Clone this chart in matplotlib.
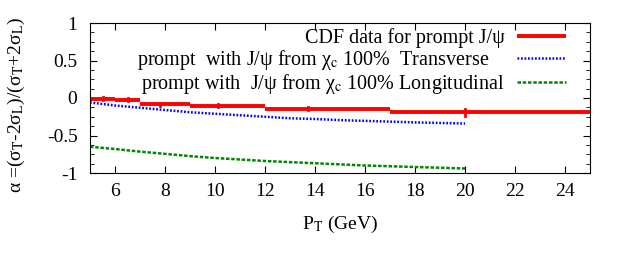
import matplotlib
matplotlib.use("Agg")
import matplotlib.pyplot as plt
import numpy as np
from matplotlib.ticker import MultipleLocator

plt.rcParams['font.family'] = ['Liberation Serif', 'DejaVu Serif']
plt.rcParams['mathtext.fontset'] = 'stix'

# CDF data: bin edges, centers (points), values, errors
cdf_lo = [5, 6, 7, 9, 12, 17]
cdf_hi = [6, 7, 9, 12, 17, 25]
cdf_x = [5.5, 6.5, 7.8, 10.1, 13.7, 20.0]
cdf_y = [-0.01, -0.02, -0.085, -0.10, -0.14, -0.19]
cdf_err = [0.02, 0.02, 0.015, 0.015, 0.025, 0.045]

# Theory curves
pt = [5, 6, 7, 8, 9, 10, 11, 12, 13, 14, 15, 16, 17, 18, 19, 20]
transverse = [-0.06, -0.10, -0.13, -0.16, -0.19, -0.21, -0.23, -0.25, -0.27, -0.28, -0.295, -0.305, -0.315, -0.325, -0.333, -0.34]
longitudinal = [-0.65, -0.68, -0.715, -0.745, -0.775, -0.80, -0.82, -0.84, -0.855, -0.87, -0.885, -0.90, -0.91, -0.92, -0.93, -0.94]

labels = ['CDF data for prompt J/\u03c8',
          'prompt  with J/\u03c8 from \u03c7$_{\\rm c}$ 100%  Transverse    ',
          'prompt with  J/\u03c8 from \u03c7$_{\\rm c}$ 100% Longitudinal']

fig = plt.figure(figsize=(6.23, 2.54), dpi=100)
ax = fig.add_axes([90/623, 1-173/254, 500/623, 150/254])

red = '#ff0000'
for i in range(len(cdf_x)):
    ax.plot([cdf_lo[i], cdf_hi[i]], [cdf_y[i], cdf_y[i]], color=red, lw=2.8,
            solid_capstyle='butt', label=labels[0] if i == 0 else None)
    ax.plot([cdf_x[i], cdf_x[i]], [cdf_y[i]-cdf_err[i], cdf_y[i]+cdf_err[i]], color=red, lw=2.0)

ax.plot(pt, transverse, color='#0000ff', lw=1.8, ls=(0, (0.7, 0.7)), label=labels[1])
ax.plot(pt, longitudinal, color='#008800', lw=1.8, ls=(0, (1.4, 0.7)), label=labels[2])

ax.set_xlim(5, 25)
ax.set_ylim(-1, 1)
ax.xaxis.set_major_locator(MultipleLocator(2))
ax.yaxis.set_major_locator(MultipleLocator(0.5))
ax.yaxis.set_minor_locator(MultipleLocator(0.125))
ax.tick_params(which='both', direction='in', top=True, right=True, labelsize=14)
ax.tick_params(which='major', length=5)
ax.tick_params(which='minor', length=3)
ax.yaxis.set_major_formatter(matplotlib.ticker.FuncFormatter(lambda v, p: ('%g' % v)))
ax.tick_params(axis='x', pad=7)
ax.tick_params(axis='y', pad=9)

ax.set_xlabel(r'P$_{\rm T}$ (GeV)', fontsize=14, labelpad=10)
ax.set_ylabel('\u03b1 =(\u03c3$_{\\rm T}$-2\u03c3$_{\\rm L}$)/(\u03c3$_{\\rm T}$+2\u03c3$_{\\rm L}$)', fontsize=14)
ax.yaxis.set_label_coords((27-90)/500, 1 - (105-23)/150)

leg = ax.legend(loc='upper right', frameon=False, fontsize=14.5, markerfirst=False,
                handlelength=2.45, handletextpad=0.6, labelspacing=0.0,
                borderaxespad=0.0, borderpad=0.0,
                bbox_to_anchor=(1 - 24/500, 1 - 5/150))
for t in leg.get_texts():
    t.set_ha('right')
leg._legend_box.align = 'right'

fig.savefig('out.png', dpi=100)
